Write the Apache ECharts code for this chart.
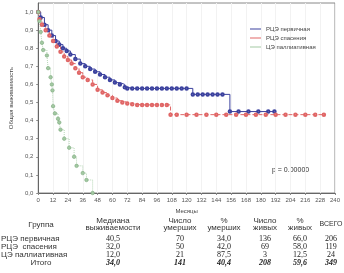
<!DOCTYPE html>
<html>
<head>
<meta charset="utf-8">
<script src="https://cdn.jsdelivr.net/npm/echarts@6/dist/echarts.min.js"></script>
<style>
html, body { margin: 0; padding: 0; background: #fff; }
#chart { width: 344px; height: 273px; }
</style>
</head>
<body>
<div id="chart"></div>
<script>
// survival curves: months and survival share
var seriesNames = ['РЦЭ первичная', 'РЦЭ спасения', 'ЦЭ паллиативная'];

var blueT = [0, 2, 5, 8, 11, 14, 17, 20, 23, 26, 30, 34, 38, 42, 46, 50, 54, 58, 62, 66, 70, 72,
             76, 80, 84, 88, 92, 96, 100, 104, 108, 112, 116, 120, 125,
             129, 133, 137, 141, 145, 149, 155, 162, 170, 178, 186, 191];
var blueS = [1.0, 0.97, 0.93, 0.9, 0.87, 0.84, 0.82, 0.8, 0.785, 0.765, 0.74, 0.715, 0.7, 0.685, 0.67, 0.655, 0.64, 0.625, 0.61, 0.6, 0.585, 0.578,
             0.578, 0.578, 0.578, 0.578, 0.578, 0.578, 0.578, 0.578, 0.578, 0.578, 0.578, 0.578, 0.545,
             0.545, 0.545, 0.545, 0.545, 0.545, 0.545, 0.45, 0.45, 0.45, 0.45, 0.45, 0.45];

var redT = [0, 1, 3, 6, 9, 12, 15, 18, 21, 24, 27, 30, 33, 36, 40, 44, 48, 52, 56, 60, 64, 68, 72, 76, 80,
            84, 88, 92, 96, 100, 104, 107, 112, 120, 128, 136, 144, 152, 160, 168, 176, 184, 192, 200, 208, 216, 224, 231];
var redS = [1.0, 0.96, 0.93, 0.9, 0.87, 0.84, 0.81, 0.78, 0.755, 0.735, 0.715, 0.69, 0.665, 0.64, 0.625, 0.6, 0.57, 0.555, 0.54, 0.525, 0.51, 0.5, 0.495, 0.49, 0.487,
            0.487, 0.487, 0.487, 0.487, 0.487, 0.487, 0.433, 0.433, 0.433, 0.433, 0.433, 0.433, 0.433, 0.433, 0.433, 0.433, 0.433, 0.433, 0.433, 0.433, 0.433, 0.433, 0.433];

var greenT = [0, 1, 2, 3, 4, 7, 8, 10, 11, 11.5, 12, 13.5, 16, 17, 18, 21, 25, 29, 31, 36, 39, 44];
var greenS = [1.0, 0.95, 0.89, 0.83, 0.79, 0.76, 0.69, 0.64, 0.6, 0.567, 0.48, 0.44, 0.41, 0.39, 0.35, 0.3, 0.25, 0.2, 0.15, 0.11, 0.072, 0.0];

// table below the chart
var tableHead1 = ['Группа', 'Медиана', 'Число', '%', 'Число', '%', 'ВСЕГО'];
var tableHead2 = ['', 'выживаемости', 'умерших', 'умерших', 'живых', 'живых', ''];
var tableGroups = ['РЦЭ первичная', 'РЦЭ  спасения', 'ЦЭ паллиативная', 'Итого'];
var tableMedian = ['40,5', '32,0', '12,0', '34,0'];
var tableDead = ['70', '50', '21', '141'];
var tableDeadPct = ['34,0', '42,0', '87,5', '40,4'];
var tableAlive = ['136', '69', '3', '208'];
var tableAlivePct = ['66,0', '58,0', '12,5', '59,6'];
var tableTotal = ['206', '119', '24', '349'];

function pairs(t, s) {
    var out = [];
    for (var i = 0; i < t.length; i++) out.push([t[i], s[i]]);
    return out;
}

var colX = [41, 113, 180, 224, 265, 300, 331];
var headY1 = 221, headY2 = 228;
var rowY = [239, 247, 255, 263];
var sans = '"Liberation Sans", Arial, sans-serif';
var serif = '"Liberation Serif", "Times New Roman", serif';

var graphics = [];
for (var c = 0; c < tableHead1.length; c++) {
    var single = tableHead2[c] === '';
    graphics.push({ type: 'text', x: colX[c], y: single ? (headY1 + headY2) / 2 : headY1,
        style: { text: tableHead1[c], font: (c === 6 ? '7px ' : '8px ') + sans, fill: '#333', align: 'center', verticalAlign: 'middle' } });
    if (!single) {
        graphics.push({ type: 'text', x: colX[c], y: headY2,
            style: { text: tableHead2[c], font: '8px ' + sans, fill: '#333', align: 'center', verticalAlign: 'middle' } });
    }
}
var cols = [tableMedian, tableDead, tableDeadPct, tableAlive, tableAlivePct, tableTotal];
for (var r = 0; r < tableGroups.length; r++) {
    var last = r === tableGroups.length - 1;
    graphics.push({ type: 'text', x: last ? colX[0] : 1, y: rowY[r],
        style: { text: tableGroups[r], font: '8px ' + sans, fill: '#333', align: last ? 'center' : 'left', verticalAlign: 'middle' } });
    for (var k = 0; k < cols.length; k++) {
        graphics.push({ type: 'text', x: colX[k + 1], y: rowY[r],
            style: { text: cols[k][r], font: (last ? 'italic bold ' : '') + '8px ' + serif, fill: '#222', align: 'center', verticalAlign: 'middle' } });
    }
}
graphics.push({ type: 'text', x: 272, y: 170,
    style: { text: 'p = 0.00000', font: '7px ' + sans, fill: '#333', verticalAlign: 'middle' } });

var myChart = echarts.init(document.getElementById('chart'));
myChart.setOption({
    animation: false,
    backgroundColor: '#fff',
    grid: { left: 33, right: 9, top: 3, bottom: 80, show: true, borderColor: '#888', borderWidth: 1 },
    legend: {
        orient: 'vertical', left: 245, top: 21, itemWidth: 11, itemHeight: 1, itemGap: 3,
        icon: 'rect',
        itemStyle: { borderWidth: 0 },
        textStyle: { fontSize: 6, color: '#444', fontFamily: sans },
        data: seriesNames
    },
    xAxis: {
        type: 'value', min: 0, max: 240, interval: 12,
        name: 'Месяцы', nameLocation: 'middle', nameGap: 13,
        nameTextStyle: { fontSize: 6, color: '#444', fontFamily: sans },
        axisLine: { lineStyle: { color: '#666' } },
        axisTick: { length: 2, lineStyle: { color: '#888' } },
        axisLabel: { fontSize: 6, color: '#555', margin: 4, fontFamily: sans },
        splitLine: { show: true, lineStyle: { color: '#f2f2f2' } }
    },
    yAxis: {
        type: 'value', min: 0, max: 1.05, interval: 0.1,
        name: 'Общая выживаемость', nameLocation: 'middle', nameGap: 20,
        nameTextStyle: { fontSize: 6, color: '#444', fontFamily: sans },
        axisLine: { lineStyle: { color: '#666' } },
        axisTick: { length: 2, lineStyle: { color: '#888' } },
        axisLabel: { fontSize: 6, color: '#555', margin: 5, fontFamily: sans, showMaxLabel: false,
            formatter: function (v) { return v.toFixed(1).replace('.', ','); } },
        splitLine: { show: false }
    },
    series: [
        {
            name: seriesNames[0], type: 'line', step: 'end',
            data: pairs(blueT, blueS),
            color: '#3b419e',
            lineStyle: { width: 1, color: '#3b419e' },
            symbol: 'emptyCircle', symbolSize: 2.5,
            itemStyle: { color: '#3b419e', borderWidth: 0.7 }
        },
        {
            name: seriesNames[1], type: 'line', step: 'end',
            data: pairs(redT, redS),
            color: '#e06666',
            lineStyle: { width: 1, color: '#e06666', type: 'dashed' },
            symbol: 'emptyCircle', symbolSize: 2.5,
            itemStyle: { color: '#e06666', borderWidth: 0.7 }
        },
        {
            name: seriesNames[2], type: 'line', step: 'end',
            data: pairs(greenT, greenS),
            color: '#a8cfa8',
            lineStyle: { width: 1, color: '#b5d6b5', type: 'dotted' },
            symbol: 'circle', symbolSize: 3.5,
            itemStyle: { color: '#a3c9a3', borderColor: '#7aa87a', borderWidth: 0.6 }
        }
    ],
    graphic: graphics
});
</script>
</body>
</html>
